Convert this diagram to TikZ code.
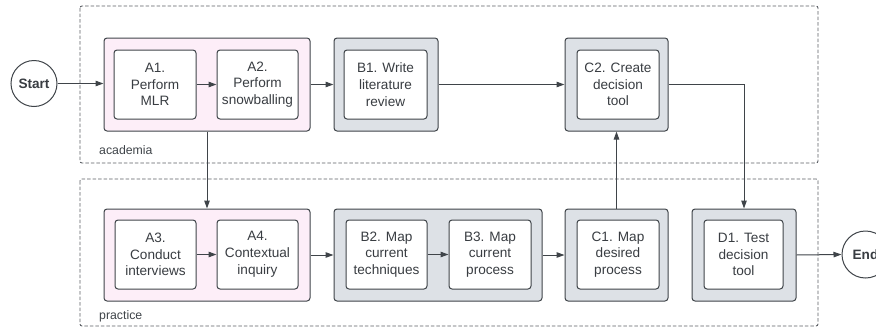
\documentclass[tikz,border=0pt]{standalone}
\usepackage{fontspec}
\setmainfont{Liberation Sans}
\usetikzlibrary{arrows.meta}
\definecolor{ln}{HTML}{3F4449}
\definecolor{pinkf}{HTML}{FDEEF8}
\definecolor{grayf}{HTML}{DDE1E6}
\definecolor{dashc}{HTML}{5A5E63}
\tikzset{
  lanebox/.style={draw=dashc, line width=0.9pt, dash pattern=on 3.5pt off 2pt, rounded corners=2pt},
  grp/.style={draw=ln, line width=1pt, rounded corners=3pt, inner sep=0pt},
  pinkgrp/.style={grp, fill=pinkf},
  graygrp/.style={grp, fill=grayf},
  task/.style={draw=ln, fill=white, line width=1pt, rounded corners=3pt, inner sep=0pt,
    align=center, font=\fontsize{13.6}{16.8}\selectfont, text=ln!90!black},
  term/.style={circle, draw=ln, fill=white, line width=1pt, minimum size=46pt, inner sep=0pt,
    font=\fontsize{13.6}{16}\selectfont\bfseries, text=ln!90!black},
  lanelabel/.style={anchor=west, inner sep=0pt, font=\fontsize{12.3}{14}\selectfont, text=ln},
  flow/.style={draw=ln, line width=1pt, -{Triangle[length=8pt,width=5.5pt]}}
}
\begin{document}
\begin{tikzpicture}[x=1pt,y=-1pt]
\useasboundingbox (0,0) rectangle (876,327);
% lanes
\draw[lanebox] (80,6) rectangle (818,163);
\draw[lanebox] (80,179) rectangle (818,326);
\node[lanelabel] (acad) at (99,150) {academia};
\node[lanelabel] (prac) at (99,316) {practice};
% groups row 1
\node[pinkgrp, minimum width=206pt, minimum height=93pt] (Ag) at (207,84.5) {};
\node[graygrp, minimum width=104pt, minimum height=93pt] (B1g) at (386,84.5) {};
\node[graygrp, minimum width=103pt, minimum height=93pt] (C2g) at (616.5,84.5) {};
% groups row 2
\node[pinkgrp, minimum width=206pt, minimum height=92pt] (Apg) at (207,255) {};
\node[graygrp, minimum width=208pt, minimum height=92pt] (Bpg) at (438,255) {};
\node[graygrp, minimum width=103pt, minimum height=92pt] (C1g) at (616.5,255) {};
\node[graygrp, minimum width=104pt, minimum height=92pt] (D1g) at (744,255) {};
% tasks row 1
\node[task, minimum width=82pt, minimum height=69pt] (A1) at (155,84.5) {A1.\\Perform\\MLR};
\node[task, minimum width=81pt, minimum height=69pt] (A2) at (257.5,84.5) {A2.\\Perform\\snowballing};
\node[task, minimum width=83pt, minimum height=69pt] (B1) at (385.5,84.5) {B1. Write\\literature\\review};
\node[task, minimum width=82pt, minimum height=69pt] (C2) at (618,84.5) {C2. Create\\decision\\tool};
% tasks row 2
\node[task, minimum width=81pt, minimum height=69pt] (A3) at (155.5,254.5) {A3.\\Conduct\\interviews};
\node[task, minimum width=81pt, minimum height=69pt] (A4) at (257.5,254.5) {A4.\\Contextual\\inquiry};
\node[task, minimum width=81pt, minimum height=69pt] (B2) at (386.5,254.5) {B2. Map\\current\\techniques};
\node[task, minimum width=82pt, minimum height=69pt] (B3) at (490,254.5) {B3. Map\\current\\process};
\node[task, minimum width=82pt, minimum height=69pt] (C1) at (618,254.5) {C1. Map\\desired\\process};
\node[task, minimum width=79pt, minimum height=69pt] (D1) at (743.5,254.5) {D1. Test\\decision\\tool};
% terminals
\node[term] (start) at (34,83.5) {Start};
\node[term, minimum size=47pt] (end) at (865.5,254.5) {End};
% flows
\draw[flow] (start.east) -- (start.east -| Ag.west);
\draw[flow] (A1.east) -- (A2.west);
\draw[flow] (Ag.east) -- (B1g.west);
\draw[flow] (B1g.east) -- (C2g.west);
\draw[flow] (C2g.east) -| (D1g.north);
\draw[flow] (Ag.south) -- (Apg.north);
\draw[flow] (C1g.north) -- (C2g.south);
\draw[flow] (A3.east) -- (A4.west);
\draw[flow] (Apg.east) -- (Bpg.west);
\draw[flow] (B2.east) -- (B3.west);
\draw[flow] (Bpg.east) -- (C1g.west);
\draw[flow] (D1g.east) -- (end.west);
\end{tikzpicture}
\end{document}
